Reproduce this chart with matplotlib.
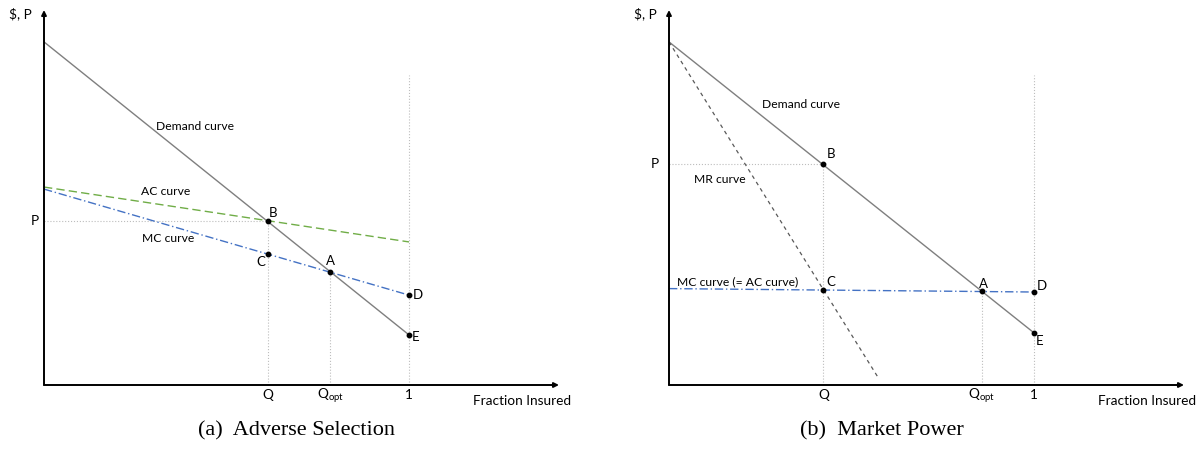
import matplotlib
matplotlib.use("Agg")
import matplotlib.pyplot as plt

plt.rcParams["font.family"] = ["Lato", "DejaVu Sans"]
plt.rcParams["mathtext.fontset"] = "custom"
plt.rcParams["mathtext.rm"] = "Lato"

# ── Panel (a) : Adverse Selection ───────────────────────────────
a_demand_x = [0.0, 1.0]
a_demand_y = [1.0, 0.146]
a_ac_x = [0.0, 1.0]
a_ac_y = [0.577, 0.417]
a_mc_x = [0.0, 1.0]
a_mc_y = [0.571, 0.262]
a_q, a_qopt, a_price = 0.614, 0.784, 0.478
a_pts = {"B": (0.614, 0.478), "C": (0.614, 0.381), "A": (0.784, 0.330),
         "D": (1.0, 0.262), "E": (1.0, 0.146)}

# ── Panel (b) : Market Power ────────────────────────────────────
b_demand_x = [0.0, 1.0]
b_demand_y = [1.0, 0.152]
b_mr_x = [0.0, 0.574]
b_mr_y = [1.0, 0.02]
b_mc_x = [0.0, 1.0]
b_mc_y = [0.281, 0.271]
b_q, b_qopt, b_price = 0.423, 0.857, 0.643
b_pts = {"B": (0.423, 0.643), "C": (0.423, 0.277), "A": (0.857, 0.273),
         "D": (1.0, 0.271), "E": (1.0, 0.152)}

x_ticks = ["Q", r"Q$_{\mathrm{opt}}$", "1"]

GRAY = "#7f7f7f"
DOT = "#bdbdbd"
GREEN = "#70ad47"
BLUE = "#4472c4"
FS = 9.8      # axes / ticks
FS_LAB = 8.7  # curve labels
FS_PT = 9.5   # point letters

fig = plt.figure(figsize=(12.03, 4.5), dpi=100)
XMAX, YMAX = 1.411, 1.093
ax_a = fig.add_axes([44 / 1203, 65 / 450, 515 / 1203, 375 / 450])
ax_b = fig.add_axes([669 / 1203, 65 / 450, 515 / 1203, 375 / 450])


def base(ax, q, qopt, price):
    ax.set_xlim(0, XMAX)
    ax.set_ylim(0, YMAX)
    ax.axis("off")
    arrow = dict(arrowstyle="-|>", color="black", lw=1.4, mutation_scale=7,
                 shrinkA=0, shrinkB=0)
    ax.annotate("", xy=(0, YMAX), xytext=(0, 0), arrowprops=arrow, annotation_clip=False)
    ax.annotate("", xy=(XMAX, 0), xytext=(0, 0), arrowprops=arrow, annotation_clip=False)
    ax.text(-0.066, 1.082, "$, P", fontsize=FS, ha="center", va="center")
    ax.text(1.175, -0.047, "Fraction Insured", fontsize=FS, ha="left", va="center")
    for xv, lab in zip([q, qopt, 1.0], x_ticks):
        ax.text(xv, -0.03, lab, fontsize=FS, ha="center", va="center")
    # lignes pointillées de repère
    ax.plot([0, q], [price, price], color=DOT, lw=0.8, ls=":")
    ax.plot([q, q], [0, price], color=DOT, lw=0.8, ls=":")
    ax.plot([1, 1], [0, 0.904], color=DOT, lw=0.8, ls=":")


def points(ax, pts, offsets):
    for name, (px, py) in pts.items():
        ax.plot(px, py, "o", color="black", ms=3.2, zorder=5)
        ax.annotate(name, (px, py), xytext=offsets[name], textcoords="offset points",
                    fontsize=FS_PT, ha="center", va="center")


# (a)
base(ax_a, a_q, a_qopt, a_price)
ax_a.plot([a_qopt, a_qopt], [0, a_pts["A"][1]], color=DOT, lw=0.8, ls=":")
ax_a.plot(a_demand_x, a_demand_y, color=GRAY, lw=1.0)
ax_a.plot(a_ac_x, a_ac_y, color=GREEN, lw=1.0, ls=(0, (6, 3)))
ax_a.plot(a_mc_x, a_mc_y, color=BLUE, lw=1.0, ls=(0, (6, 2, 1, 2)))
ax_a.text(-0.025, a_price, "P", fontsize=FS, ha="center", va="center")
ax_a.text(0.414, 0.752, "Demand curve", fontsize=FS_LAB, ha="center", va="center")
ax_a.text(0.332, 0.563, "AC curve", fontsize=FS_LAB, ha="center", va="center")
ax_a.text(0.340, 0.426, "MC curve", fontsize=FS_LAB, ha="center", va="center")
points(ax_a, a_pts, {"B": (3.5, 5.5), "C": (-5, -5.5), "A": (0, 7.5), "D": (6.5, 0), "E": (5, -1.5)})

# (b)
base(ax_b, b_q, b_qopt, b_price)
ax_b.plot([b_qopt, b_qopt], [0, b_pts["A"][1]], color=DOT, lw=0.8, ls=":")
ax_b.plot(b_demand_x, b_demand_y, color=GRAY, lw=1.0)
ax_b.plot(b_mr_x, b_mr_y, color="#595959", lw=0.9, ls=(0, (3, 3)))
ax_b.plot(b_mc_x, b_mc_y, color=BLUE, lw=1.0, ls=(0, (6, 2, 1, 2)))
ax_b.text(-0.038, b_price, "P", fontsize=FS, ha="center", va="center")
ax_b.text(0.363, 0.819, "Demand curve", fontsize=FS_LAB, ha="center", va="center")
ax_b.text(0.140, 0.598, "MR curve", fontsize=FS_LAB, ha="center", va="center")
ax_b.text(0.187, 0.300, "MC curve (= AC curve)", fontsize=FS_LAB, ha="center", va="center")
points(ax_b, b_pts, {"B": (5.5, 7.5), "C": (5, 6), "A": (1, 5.5), "D": (5.5, 4.5), "E": (4, -6)})

fig.text(297 / 1203, 1 - 431 / 450, "(a)  Adverse Selection", fontsize=16,
         family="Liberation Serif", ha="center", va="center")
fig.text(882 / 1203, 1 - 431 / 450, "(b)  Market Power", fontsize=16,
         family="Liberation Serif", ha="center", va="center")

fig.savefig("out.png", dpi=100)
